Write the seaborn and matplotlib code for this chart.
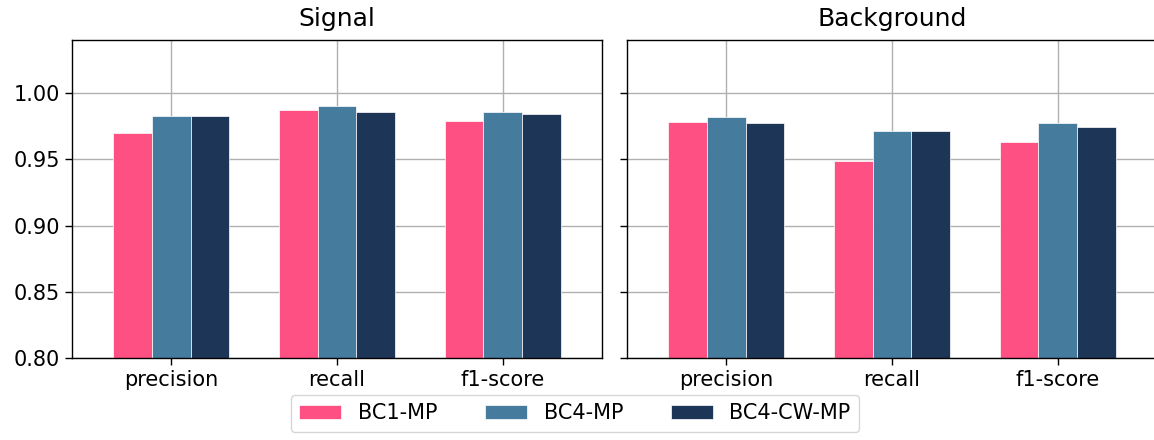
import matplotlib
matplotlib.use("Agg")
import matplotlib.pyplot as plt
import seaborn as sns
import pandas as pd

metrics = ["precision", "recall", "f1-score"]
models = ["BC1-MP", "BC4-MP", "BC4-CW-MP"]
signal_bc1 = [0.970, 0.987, 0.979]
signal_bc4 = [0.983, 0.990, 0.986]
signal_cw = [0.983, 0.986, 0.984]
bkg_bc1 = [0.978, 0.949, 0.963]
bkg_bc4 = [0.982, 0.971, 0.977]
bkg_cw = [0.977, 0.971, 0.974]
colors = ["#FF5083", "#457B9D", "#1D3557"]


def frame(vals_list):
    rows = []
    for m, vals in zip(models, vals_list):
        for met, v in zip(metrics, vals):
            rows.append({"metric": met, "model": m, "value": v})
    return pd.DataFrame(rows)


sig = frame([signal_bc1, signal_bc4, signal_cw])
bkg = frame([bkg_bc1, bkg_bc4, bkg_cw])

sns.set_style("ticks")
plt.rcParams["font.family"] = ["DejaVu Sans"]
for k in ["text.color", "axes.labelcolor", "xtick.color", "ytick.color", "axes.edgecolor"]:
    plt.rcParams[k] = "black"

W, H = 1154, 440
fig = plt.figure(figsize=(W / 100, H / 100), dpi=100)
bottom = 1 - 358 / H
height = (358 - 40) / H
ax1 = fig.add_axes([72 / W, bottom, 530 / W, height])
ax2 = fig.add_axes([627 / W, bottom, 530 / W, height], sharey=ax1)
axes = [ax1, ax2]

for ax, df, title in zip(axes, [sig, bkg], ["Signal", "Background"]):
    sns.barplot(data=df, x="metric", y="value", hue="model", hue_order=models,
                order=metrics, palette=colors, width=0.7, ax=ax, saturation=1,
                edgecolor="white", linewidth=0.5, legend=(ax is ax1))
    ax.set_title(title, fontsize=18, pad=10)
    ax.set_xlabel("")
    ax.set_ylabel("")
    ax.set_ylim(0.80, 1.04)
    ax.set_xlim(-0.6, 2.6)
    ax.set_yticks([0.80, 0.85, 0.90, 0.95, 1.00])
    ax.grid(True, color="#b0b0b0", linewidth=1.0)
    ax.set_axisbelow(True)
    ax.tick_params(axis="both", labelsize=15, length=5, width=1, left=True, bottom=True)
    for s in ax.spines.values():
        s.set_visible(True)
        s.set_color("black")
        s.set_linewidth(1.0)

ax2.tick_params(axis="y", labelleft=False)

handles, labels = ax1.get_legend_handles_labels()
ax1.get_legend().remove()
fig.legend(handles, labels, loc="lower center", ncol=3, fontsize=15,
           bbox_to_anchor=(575 / W, -0.005), frameon=True, handlelength=2.0,
           columnspacing=2.3)

fig.savefig("out.png", dpi=100)
